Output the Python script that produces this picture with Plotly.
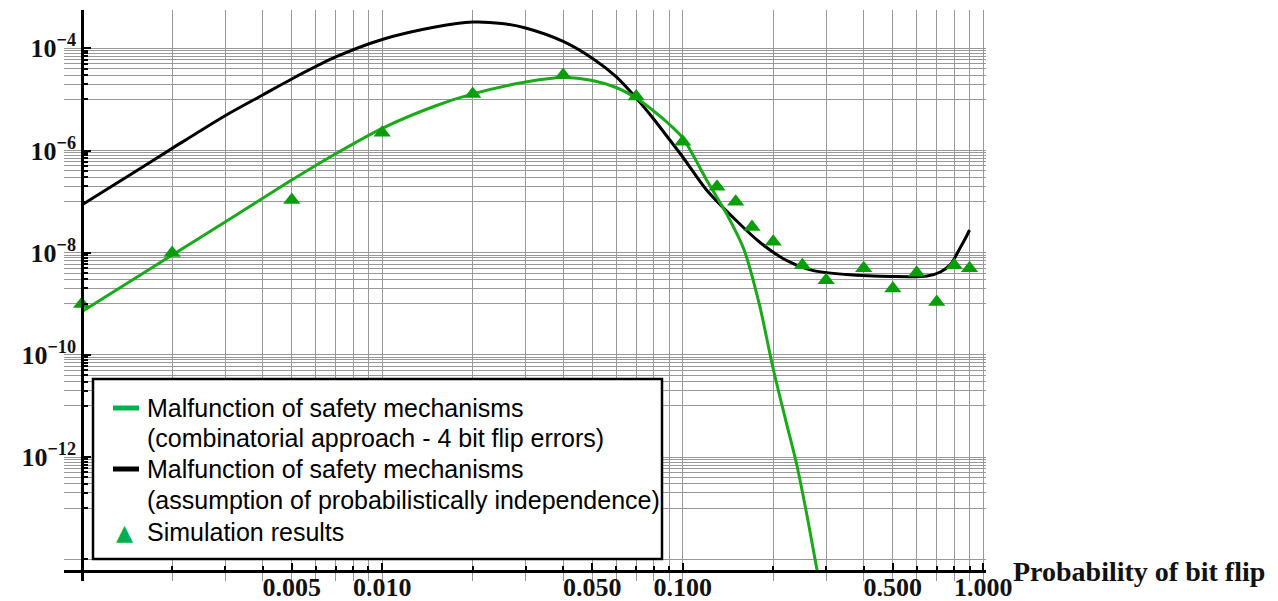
import plotly.graph_objects as go

W, H = 1278, 601

# ---------------- data ----------------
black_p = [0.001, 0.0015, 0.002, 0.003, 0.004, 0.005, 0.007, 0.01, 0.015, 0.02,
           0.025, 0.03, 0.04, 0.05, 0.06, 0.07, 0.08, 0.09, 0.1, 0.12,
           0.15, 0.18, 0.22, 0.27, 0.35, 0.5, 0.65, 0.72, 0.78, 0.83, 0.88, 0.9]
black_v = [8.6e-8, 3.79e-7, 1.10e-6, 4.8e-6, 1.22e-5, 2.51e-5, 6.76e-5, 1.49e-4, 2.61e-4, 3.27e-4,
           3.06e-4, 2.49e-4, 1.36e-4, 6.37e-5, 2.78e-5, 1.06e-5, 4.13e-6, 1.68e-6, 7.46e-7, 1.69e-7,
           4.36e-8, 1.62e-8, 7.2e-9, 4.5e-9, 3.74e-9, 3.42e-9, 3.5e-9, 4.19e-9, 6.0e-9, 1.13e-8,
           2.12e-8, 2.78e-8]

green_p = [0.001, 0.002, 0.003, 0.005, 0.007, 0.01, 0.015, 0.02, 0.03, 0.04,
           0.05, 0.06, 0.07, 0.08, 0.09, 0.1, 0.12, 0.14, 0.16, 0.18,
           0.2, 0.22, 0.24, 0.26, 0.28]
green_v = [7.0e-10, 9.0e-9, 3.99e-8, 2.65e-7, 8.65e-7, 2.72e-6, 7.43e-6, 1.28e-5, 2.19e-5, 2.68e-5,
           2.34e-5, 1.71e-5, 1.06e-5, 5.93e-6, 3.30e-6, 1.76e-6, 2.65e-7, 5.71e-8, 1.13e-8, 9.5e-10,
           5.3e-11, 5.3e-12, 6.7e-13, 6.4e-14, 6.0e-15]

sim_p = [0.001, 0.002, 0.005, 0.01, 0.02, 0.04, 0.07, 0.1, 0.13, 0.15,
         0.17, 0.2, 0.25, 0.3, 0.4, 0.5, 0.6, 0.7, 0.8, 0.9]
sim_v = [9.9e-10, 9.9e-9, 1.07e-7, 2.23e-6, 1.28e-5, 3.0e-5, 1.14e-5, 1.49e-6, 1.96e-7, 9.96e-8,
         3.2e-8, 1.64e-8, 5.7e-9, 2.9e-9, 4.95e-9, 2.0e-9, 4.07e-9, 1.08e-9, 5.7e-9, 4.95e-9]

x_tick_vals = [0.005, 0.01, 0.05, 0.1, 0.5, 1.0]
x_tick_text = ["0.005", "0.010", "0.050", "0.100", "0.500", "1.000"]
y_tick_exps = [-4, -6, -8, -10, -12]

legend_lines = [
    "Malfunction of safety mechanisms",
    "(combinatorial approach - 4 bit flip errors)",
    "Malfunction of safety mechanisms",
    "(assumption of probabilistically independence)",
    "Simulation results",
]
x_title = "Probability of bit flip"

# ---------------- helpers (layout positions in px) ----------------
def px(x):
    return x / W

def py(y):
    return 1 - y / H

y_tick_vals = [10.0 ** e for e in y_tick_exps]
y_tick_text = ["10<sup>\u2212%d</sup>" % (-e) for e in y_tick_exps]
x_minor = [m * 10.0 ** e for e in (-3, -2, -1) for m in range(1, 10)] + [1.0]
y_minor = [m * 10.0 ** (e - 1) for e in y_tick_exps for m in range(1, 10)] + [1e-14]

GRID = "#989898"
GREEN_LINE = "#19a919"
GREEN_MARK = "#0a9f0a"
LEG_GREEN = "#00b050"
TICK_FONT = dict(family="Liberation Serif, Times New Roman, serif", size=26,
                 color="#111111", weight="bold")

fig = go.Figure()
fig.add_trace(go.Scatter(x=black_p, y=black_v, mode="lines", name="independence",
                         line=dict(color="black", width=3, shape="spline", smoothing=0.8),
                         showlegend=False))
fig.add_trace(go.Scatter(x=green_p, y=green_v, mode="lines", name="combinatorial",
                         line=dict(color=GREEN_LINE, width=3, shape="spline", smoothing=0.8),
                         showlegend=False))
fig.add_trace(go.Scatter(x=sim_p, y=sim_v, mode="markers", name="simulation",
                         marker=dict(symbol="triangle-up", size=15, color=GREEN_MARK,
                                     line=dict(width=0)),
                         showlegend=False))

fig.update_layout(
    width=W, height=H, autosize=False,
    margin=dict(l=0, r=0, t=0, b=0, pad=0, autoexpand=False),
    paper_bgcolor="white", plot_bgcolor="white",
    showlegend=False,
    xaxis=dict(
        type="log", range=[-3.0589, 0.009],
        domain=[px(64), px(986)],
        anchor="free", position=py(570.7),
        automargin=False,
        showline=True, linecolor="black", linewidth=3,
        ticks="inside", ticklen=7, tickwidth=2, tickcolor="black",
        tickmode="array", tickvals=x_tick_vals, ticktext=x_tick_text,
        tickfont=TICK_FONT, ticklabelstandoff=-8,
        showgrid=True, gridcolor=GRID, gridwidth=1.4,
        zeroline=False,
        minor=dict(tickmode="array", tickvals=x_minor, ticks="inside", ticklen=4,
                   tickwidth=1.5, tickcolor="black",
                   showgrid=True, gridcolor=GRID, gridwidth=1.4),
    ),
    yaxis=dict(
        type="log", range=[-14.419, -3.2505],
        domain=[py(580.7), py(10)],
        anchor="free", position=px(82.2),
        automargin=False,
        showline=True, linecolor="black", linewidth=3,
        ticks="inside", ticklen=7, tickwidth=2, tickcolor="black",
        tickmode="array", tickvals=y_tick_vals, ticktext=y_tick_text,
        tickfont=TICK_FONT,
        showgrid=True, gridcolor=GRID, gridwidth=1.4,
        zeroline=False,
        minor=dict(tickmode="array", tickvals=y_minor, ticks="inside", ticklen=4,
                   tickwidth=1.5, tickcolor="black",
                   showgrid=True, gridcolor=GRID, gridwidth=1.4),
    ),
)

# ---------------- legend box (manual, to match the reference layout) ----------------
shapes = [
    dict(type="rect", xref="paper", yref="paper", layer="above",
         x0=px(93), x1=px(662), y0=py(559), y1=py(379),
         line=dict(color="black", width=2.5), fillcolor="white"),
    dict(type="line", xref="paper", yref="paper", layer="above",
         x0=px(113), x1=px(139), y0=py(408), y1=py(408),
         line=dict(color=LEG_GREEN, width=5)),
    dict(type="line", xref="paper", yref="paper", layer="above",
         x0=px(113), x1=px(139), y0=py(469), y1=py(469),
         line=dict(color="black", width=5)),
]
fig.update_layout(shapes=shapes)

LEG_FONT = dict(family="Arial, Liberation Sans, sans-serif", size=25, color="black")
line_y = [408, 438, 469, 500, 532]
for txt, yy in zip(legend_lines, line_y):
    fig.add_annotation(x=px(145), y=py(yy), xref="paper", yref="paper",
                       text=txt, showarrow=False, xanchor="left", yanchor="middle",
                       font=LEG_FONT)
fig.add_annotation(x=px(124), y=py(532), xref="paper", yref="paper",
                   text="\u25b2", showarrow=False, xanchor="center", yanchor="middle",
                   font=dict(family="DejaVu Sans", size=22, color=LEG_GREEN))

fig.add_annotation(x=px(1011), y=py(571), xref="paper", yref="paper",
                   text=x_title, showarrow=False, xanchor="left", yanchor="middle",
                   font=dict(family="Liberation Serif, Times New Roman, serif", size=28,
                             color="#111111", weight="bold"))

fig.write_html(
    "out.html",
    config={"responsive": False, "displayModeBar": False},
    post_script="document.body.style.margin='0';document.body.style.overflow='hidden';",
)
